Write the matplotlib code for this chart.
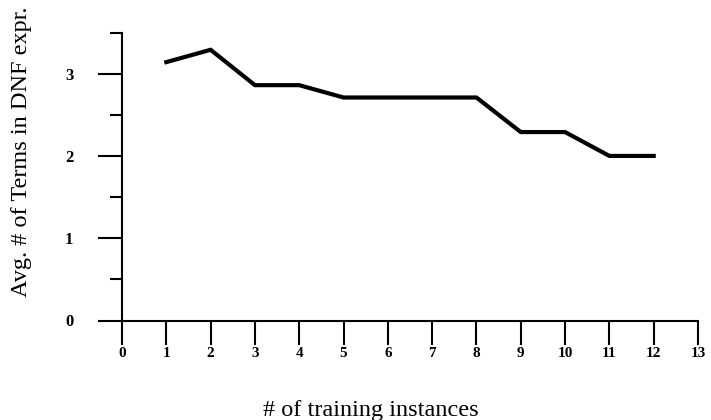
import matplotlib
matplotlib.use("Agg")
import matplotlib.pyplot as plt
import numpy as np

# data
instances = [1, 2, 3, 4, 5, 6, 7, 8, 9, 10, 11, 12]
avg_terms = [3.14, 3.29, 2.86, 2.86, 2.71, 2.71, 2.71, 2.71, 2.29, 2.29, 2.0, 2.0]
x_ticks = list(range(0, 14))
y_major = [0, 1, 2, 3]
y_minor = [0.5, 1.5, 2.5, 3.5]

plt.rcParams["font.family"] = ["Liberation Serif", "DejaVu Serif"]

fig = plt.figure(figsize=(7.11, 4.2), dpi=100)
ax = fig.add_axes([122 / 711, 1 - 320.5 / 420, (698 - 122) / 711, (320.5 - 32.5) / 420])

ax.plot(instances, avg_terms, color="black", linewidth=3, solid_joinstyle="miter")

ax.set_xlim(0, 13)
ax.set_ylim(0, 3.5)
ax.spines["top"].set_visible(False)
ax.spines["right"].set_visible(False)
for s in ["left", "bottom"]:
    ax.spines[s].set_linewidth(1.5)

ax.set_xticks(x_ticks)
ax.set_yticks(y_major)
ax.set_yticks(y_minor, minor=True)
ax.tick_params(axis="x", which="major", length=17, width=1.5, pad=2, labelsize=11)
ax.tick_params(axis="y", which="major", length=17, width=1.5, pad=18, labelsize=12)
ax.tick_params(axis="y", which="minor", length=8.5, width=1.5)
for lab in ax.get_xticklabels() + ax.get_yticklabels():
    lab.set_fontweight("bold")

xl = ax.set_xlabel("# of training instances", fontsize=17.5, labelpad=29)
yl = ax.set_ylabel("Avg. # of Terms in DNF expr.", fontsize=17.5, labelpad=24)
# the labels sit off-centre in the original
xl.set_x(0.432)
yl.set_y(0.585)

fig.savefig("out.png", dpi=100)
